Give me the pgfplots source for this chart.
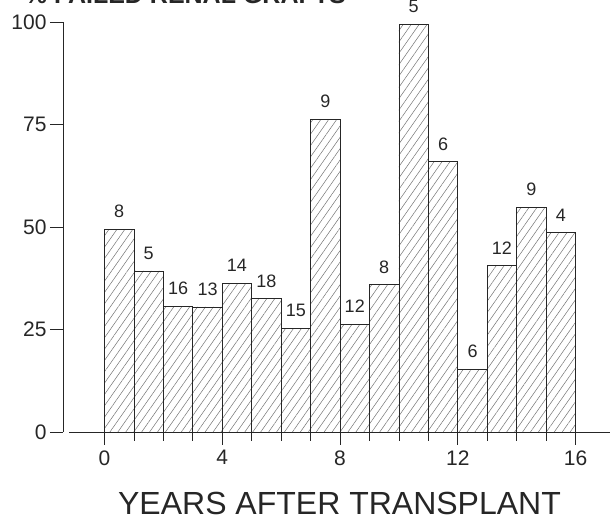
\documentclass[border=0pt]{standalone}
\usepackage{fontspec}
\setmainfont{Liberation Sans}
\usepackage{pgfplots}
\pgfplotsset{compat=1.18}
\usetikzlibrary{patterns.meta}
\definecolor{ink}{gray}{0.15}
\begin{document}
\begin{tikzpicture}
\useasboundingbox (-63bp,-89bp) rectangle (547bp,432bp);
\node[anchor=base east, font=\fontsize{25bp}{30bp}\selectfont\bfseries, text=ink, inner sep=0pt]
  at (283bp,428.5bp) {\% FAILED RENAL GRAFTS};
\begin{axis}[
  scale only axis,
  width=547bp, height=410bp,
  xmin=-1.41, xmax=17.17,
  ymin=0, ymax=100,
  clip=false,
  axis x line=bottom,
  axis y line=left,
  x axis line style={draw=none},
  y axis line style={-, line width=0.8bp, ink},
  xtick={0,4,8,12,16},
  minor xtick={1,2,3,5,6,7,9,10,11,13,14,15},
  ytick={0,25,50,75,100},
  tick align=outside,
  major tick length=13bp,
  minor tick length=9bp,
  every tick/.style={line width=0.8bp, ink},
  /pgf/number format/assume math mode=true,
  tick label style={font=\fontsize{21bp}{25bp}\selectfont, text=ink},
  x tick label style={yshift=-2bp},
  xlabel={YEARS AFTER TRANSPLANT},
  xlabel style={font=\fontsize{32bp}{38bp}\selectfont, text=ink,
    at={(axis description cs:0.5055,0)}, anchor=center, yshift=-71bp},
  nodes near coords,
  point meta=explicit symbolic,
  every node near coord/.append style={font=\fontsize{18bp}{22bp}\selectfont, text=ink, yshift=7.5bp},
]
\draw[line width=0.8bp, ink] (axis cs:-1.19,0) -- (axis cs:17.17,0);
\addplot[ybar, bar width=1, bar shift=0pt, draw=ink, line width=0.7bp,
  pattern={Lines[angle=55, distance=6.5bp, line width=0.5bp]}, pattern color=black!55]
  coordinates {
  (0.5,49.5) [8]
  (1.5,39.3) [5]
  (2.5,30.7) [16]
  (3.5,30.5) [13]
  (4.5,36.3) [14]
  (5.5,32.5) [18]
  (6.5,25.3) [15]
  (7.5,76.3) [9]
  (8.5,26.3) [12]
  (9.5,36.0) [8]
  (10.5,99.5) [5]
  (11.5,65.9) [6]
  (12.5,15.3) [6]
  (13.5,40.6) [12]
  (14.5,54.8) [9]
  (15.5,48.6) [4]
  };
\end{axis}
\end{tikzpicture}
\end{document}
